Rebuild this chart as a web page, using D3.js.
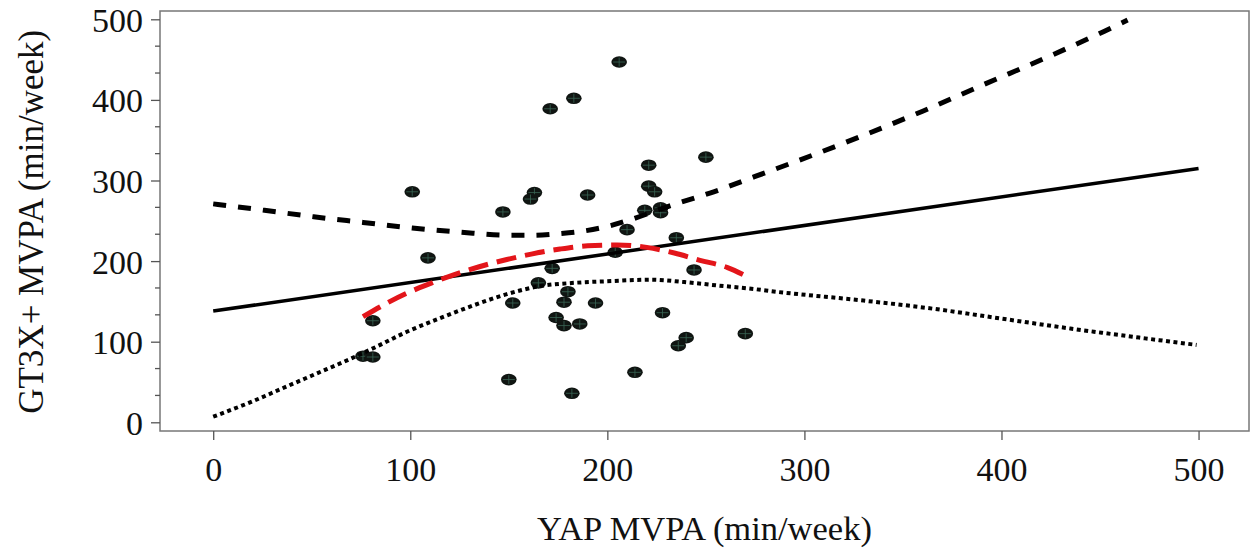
<!DOCTYPE html>
<html>
<head>
    <meta charset="utf-8">
    <title>YAP vs GT3X+ MVPA</title>
    <script src="https://d3js.org/d3.v7.min.js"></script>
    <style>
        body { margin: 0; background: #fff; }
        text { font-family: 'Liberation Serif', 'Times New Roman', serif; fill: #111; }
    </style>
</head>
<body>
    <svg></svg>

<script>
    var vWidth = 1250;
    var vHeight = 548;

    // Scatter: YAP MVPA (x) vs GT3X+ MVPA (y), min/week
    var yapMvpa = [206, 183, 171, 250, 221, 221, 224, 101, 163, 161, 190, 147, 219, 227, 227,
                   210, 235, 204, 109, 172, 244, 165, 180, 178, 194, 152, 81, 174, 178, 186,
                   228, 270, 240, 236, 76, 81, 150, 214, 182];
    var gt3xMvpa = [447, 402, 389, 329, 319, 293, 286, 286, 285, 277, 282, 261, 263, 266, 260,
                    239, 229, 211, 204, 191, 189, 173, 162, 149, 148, 148, 126, 130, 120, 122,
                    136, 110, 105, 95, 82, 81, 53, 62, 36];

    // Fitted regression line
    var fitX = [0, 500];
    var fitY = [138, 315];

    // Upper confidence band (dashed)
    var upperX = [0, 26, 51, 76, 101, 125, 151, 162, 175, 187, 200, 210, 231, 254, 275, 295, 330, 360, 390, 426, 452, 464];
    var upperY = [271, 263, 255, 248, 241, 236, 232, 232, 234, 237, 243, 250, 268, 286, 305, 323, 356, 386, 418, 456, 485, 499];

    // Lower confidence band (dotted)
    var lowerX = [0, 19, 35, 52, 69, 83, 98, 115, 132, 149, 166, 183, 200, 222, 239, 255, 272, 289, 297, 330, 365, 399, 433, 467, 499];
    var lowerY = [7, 25, 42, 60, 78, 94, 112, 129, 145, 159, 169, 173, 175, 177, 174, 170, 166, 161, 159, 151, 141, 129, 117, 106, 96];

    // Loess smooth (red dashed)
    var loessX = [76, 98, 110, 122, 135, 149, 162, 176, 190, 205, 220, 234, 247, 261, 270];
    var loessY = [131, 160, 172, 183, 193, 202, 209, 215, 219, 220, 217, 210, 201, 192, 182];

    var xTicks = [0, 100, 200, 300, 400, 500];
    var yTicks = [0, 100, 200, 300, 400, 500];

    var svg = d3.select('svg').attr('width', vWidth).attr('height', vHeight);

    var plotLeft = 160, plotRight = 1249, plotTop = 11, plotBottom = 431;

    var x = d3.scaleLinear().domain([-27, 525.6]).range([plotLeft, plotRight]);
    var y = d3.scaleLinear().domain([-10.8, 510.3]).range([plotBottom, plotTop]);

    svg.append('clipPath').attr('id', 'plotClip')
        .append('rect')
        .attr('x', plotLeft).attr('y', plotTop)
        .attr('width', plotRight - plotLeft).attr('height', plotBottom - plotTop);

    // Frame
    svg.append('rect')
        .attr('x', plotLeft).attr('y', plotTop)
        .attr('width', plotRight - plotLeft).attr('height', plotBottom - plotTop)
        .attr('fill', 'none').attr('stroke', '#777').attr('stroke-width', 1.5);

    // Y axis: major ticks + two minor ticks between
    var yAxis = d3.axisLeft(y).tickValues(yTicks).tickSize(9).tickSizeOuter(0).tickPadding(8);
    var gy = svg.append('g').attr('transform', 'translate(' + plotLeft + ',0)').call(yAxis);
    gy.select('.domain').remove();
    gy.selectAll('line').attr('stroke', '#555').attr('stroke-width', 1.3);
    gy.selectAll('text').style('font-size', '34px').attr('dy', '0.35em');

    var minorY = d3.range(0, 500, 100 / 3).filter(function (v) { return v % 100 > 1; });
    svg.append('g').selectAll('line').data(minorY).enter().append('line')
        .attr('x1', plotLeft - 5).attr('x2', plotLeft)
        .attr('y1', function (d) { return y(d); }).attr('y2', function (d) { return y(d); })
        .attr('stroke', '#555').attr('stroke-width', 1.3);

    // X axis
    var xAxis = d3.axisBottom(x).tickValues(xTicks).tickSize(9).tickSizeOuter(0).tickPadding(18);
    var gx = svg.append('g').attr('transform', 'translate(0,' + plotBottom + ')').call(xAxis);
    gx.select('.domain').remove();
    gx.selectAll('line').attr('stroke', '#555').attr('stroke-width', 1.3);
    gx.selectAll('text').style('font-size', '34px').attr('dy', '0.68em');

    // Axis titles
    svg.append('text')
        .attr('x', (plotLeft + plotRight) / 2).attr('y', 540)
        .attr('text-anchor', 'middle')
        .style('font-size', '34.5px')
        .text('YAP MVPA (min/week)');

    svg.append('text')
        .attr('transform', 'translate(43,' + ((y(0) + y(500)) / 2 + 1) + ') rotate(-90)')
        .attr('text-anchor', 'middle')
        .style('font-size', '35px')
        .text('GT3X+ MVPA (min/week)');

    var plot = svg.append('g').attr('clip-path', 'url(#plotClip)');

    function pairs(xs, ys) {
        return xs.map(function (v, i) { return [v, ys[i]]; });
    }

    var line = d3.line()
        .x(function (d) { return x(d[0]); })
        .y(function (d) { return y(d[1]); })
        .curve(d3.curveMonotoneX);

    // Points
    var pts = plot.append('g').selectAll('g').data(pairs(yapMvpa, gt3xMvpa)).enter().append('g')
        .attr('transform', function (d) { return 'translate(' + x(d[0]) + ',' + y(d[1]) + ')'; });
    pts.append('ellipse').attr('rx', 7.8).attr('ry', 5.8).attr('fill', '#101512');
    pts.append('path').attr('d', 'M-6,0H6M0,-4.5V4.5')
        .attr('stroke', '#3a6655').attr('stroke-width', 0.8);

    // Fit line
    plot.append('path').datum(pairs(fitX, fitY))
        .attr('d', line).attr('fill', 'none')
        .attr('stroke', '#000').attr('stroke-width', 3.5);

    // Upper band
    plot.append('path').datum(pairs(upperX, upperY))
        .attr('d', line).attr('fill', 'none')
        .attr('stroke', '#000').attr('stroke-width', 5)
        .attr('stroke-dasharray', '13,12');

    // Lower band
    plot.append('path').datum(pairs(lowerX, lowerY))
        .attr('d', line).attr('fill', 'none')
        .attr('stroke', '#000').attr('stroke-width', 4)
        .attr('stroke-dasharray', '4,3.5');

    // Loess
    plot.append('path').datum(pairs(loessX, loessY))
        .attr('d', line).attr('fill', 'none')
        .attr('stroke', '#e3151a').attr('stroke-width', 5)
        .attr('stroke-dasharray', '20,9');
</script>
</body>
</html>
